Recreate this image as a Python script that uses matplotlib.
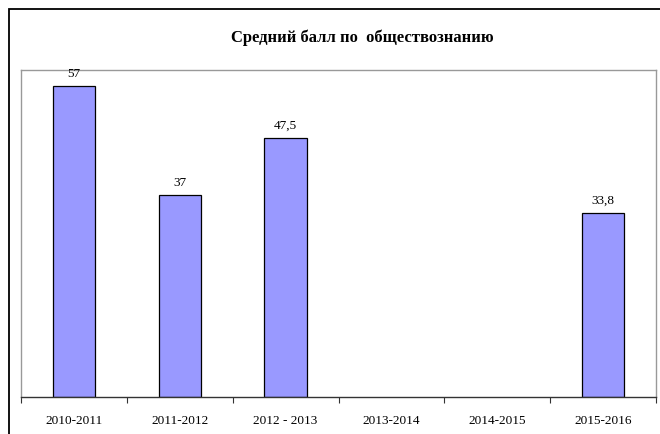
import numpy as np
import matplotlib.pyplot as plt
from matplotlib.patches import Rectangle

years = ["2010-2011", "2011-2012", "2012 - 2013", "2013-2014", "2014-2015", "2015-2016"]
scores = [57, 37, 47.5, np.nan, np.nan, 33.8]
score_labels = ["57", "37", "47,5", "", "", "33,8"]

plt.rcParams["font.family"] = ["Liberation Serif", "DejaVu Serif"]

W, H = 660, 435
fig = plt.figure(figsize=(W / 100, H / 100), dpi=100)

# outer chart frame (cut off at right and bottom like the source)
fig.patches.append(Rectangle((9 / W, -0.1), 1.2, 1 - 10 / H + 0.1, transform=fig.transFigure,
                             fill=False, edgecolor="black", linewidth=1.3))

left, right, top, bottom = 21, 656, 71, 398
ax = fig.add_axes([left / W, 1 - bottom / H, (right - left) / W, (bottom - top) / H])

x = np.arange(len(years))
bars = ax.bar(x, scores, width=0.4, color="#9999FF", edgecolor="black", linewidth=0.9)
ax.bar_label(bars, labels=score_labels, padding=5, fontsize=9.5)

ax.set_xlim(-0.5, len(years) - 0.5)
ax.set_ylim(0, 60)
ax.set_yticks([])

ax.set_xticks(np.arange(-0.5, len(years), 1.0))
ax.set_xticklabels([])
ax.tick_params(axis="x", which="major", direction="out", length=4, color="#333333")
ax.set_xticks(x, minor=True)
ax.set_xticklabels(years, minor=True, fontsize=9.5)
ax.tick_params(axis="x", which="minor", length=0, pad=12)

for side in ["left", "top", "right"]:
    ax.spines[side].set_color("#999999")
    ax.spines[side].set_linewidth(1.0)
ax.spines["bottom"].set_color("#333333")
ax.spines["bottom"].set_linewidth(1.0)

fig.text(362 / W, 1 - 38 / H, "Средний балл по  обществознанию", ha="center", va="center",
         fontsize=12, fontweight="bold")

fig.savefig("out.png", dpi=100)
